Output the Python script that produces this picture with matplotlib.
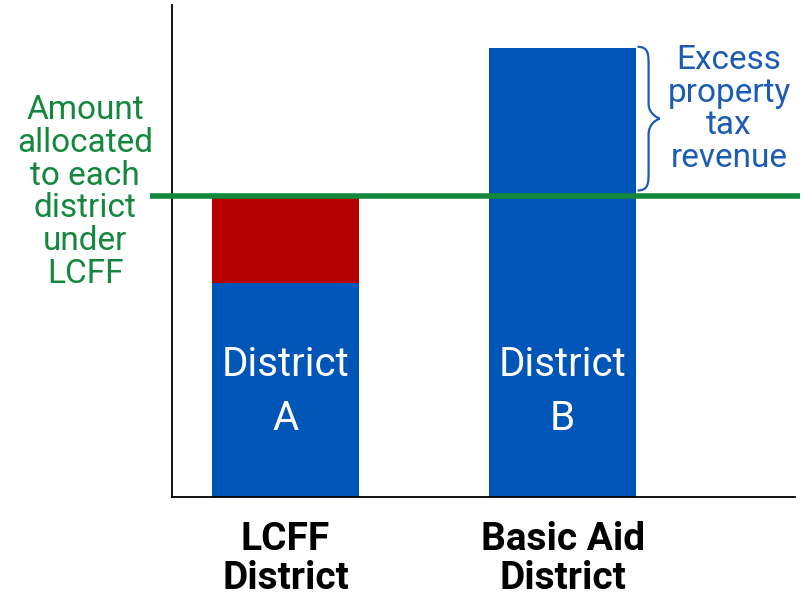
import matplotlib
matplotlib.use("Agg")
import matplotlib.pyplot as plt
from matplotlib.path import Path
from matplotlib.patches import PathPatch
import matplotlib.transforms as mtransforms

plt.rcParams['font.family'] = ['Roboto', 'DejaVu Sans']

categories = ["LCFF\nDistrict", "Basic Aid\nDistrict"]
bar_labels = ["District\nA", "District\nB"]
local_revenue = [43.5, 91.3]      # blue portion
state_aid = [17.7, 0.0]           # red portion (LCFF district)
lcff_amount = 61.2                # green line

BLUE = "#0055B8"
RED = "#B40000"
GREEN = "#13873C"
TXT_BLUE = "#1D5CB4"

fig = plt.figure(figsize=(8.06, 5.99), dpi=100)
ax = fig.add_axes([0.2134, 0.1703, 0.773, 0.8214])

x = [0, 1]
w = 0.531
ax.bar(x, local_revenue, width=w, color=BLUE, zorder=2)
ax.bar(x, state_aid, width=w, bottom=local_revenue, color=RED, zorder=2)

ax.set_xlim(-0.4097, 1.839)
ax.set_ylim(0, 100)

# green LCFF line (extends beyond the axes on the left)
trans = mtransforms.blended_transform_factory(ax.transAxes, ax.transData)
ax.plot([-0.035, 1.008], [lcff_amount, lcff_amount], color=GREEN, lw=4,
        transform=trans, clip_on=False, zorder=3, solid_capstyle='butt')

for spine in ['top', 'right']:
    ax.spines[spine].set_visible(False)
ax.spines['left'].set_linewidth(1.3)
ax.spines['bottom'].set_linewidth(1.3)
ax.set_yticks([])
ax.set_xticks(x)
ax.set_xticklabels(categories, fontsize=28, fontweight='bold', linespacing=1.08)
ax.tick_params(axis='x', length=0, pad=17)

# text in bars
for xi, lab in zip(x, bar_labels):
    ax.text(xi, 21.4, lab, ha='center', va='center', color='white',
            fontsize=29, linespacing=1.5, zorder=4)

# left annotation
fig.text(85 / 806, 1 - 192 / 599, "Amount\nallocated\nto each\ndistrict\nunder\nLCFF",
         ha='center', va='center', color=GREEN, fontsize=24, linespacing=1.03)

# brace next to bar B
y0, y1 = 91.5, 62.3
ym = (y0 + y1) / 2
xb = 1 + w / 2 + 0.005
d = 0.08  # brace depth in data units
a = d * 0.5
verts = [
    (xb, y0),
    (xb + a, y0), (xb + a, y0 - 1.5), (xb + a, y0 - 4),
    (xb + a, ym + 3),
    (xb + a, ym + 0.8), (xb + d, ym), (xb + d, ym),
    (xb + a, ym - 0.8), (xb + a, ym - 3), (xb + a, ym - 3),
    (xb + a, y1 + 4),
    (xb + a, y1 + 1.5), (xb + a, y1), (xb, y1),
]
codes = [Path.MOVETO,
         Path.CURVE4, Path.CURVE4, Path.CURVE4,
         Path.LINETO,
         Path.CURVE4, Path.CURVE4, Path.CURVE4,
         Path.CURVE4, Path.CURVE4, Path.CURVE4,
         Path.LINETO,
         Path.CURVE4, Path.CURVE4, Path.CURVE4]
ax.add_patch(PathPatch(Path(verts, codes), fill=False, edgecolor=TXT_BLUE,
                       lw=1.6, zorder=4, clip_on=False))

fig.text(729 / 806, 1 - 109 / 599, "Excess\nproperty\ntax\nrevenue",
         ha='center', va='center', color=TXT_BLUE, fontsize=24, linespacing=1.03)

fig.savefig("out.png", dpi=100)
